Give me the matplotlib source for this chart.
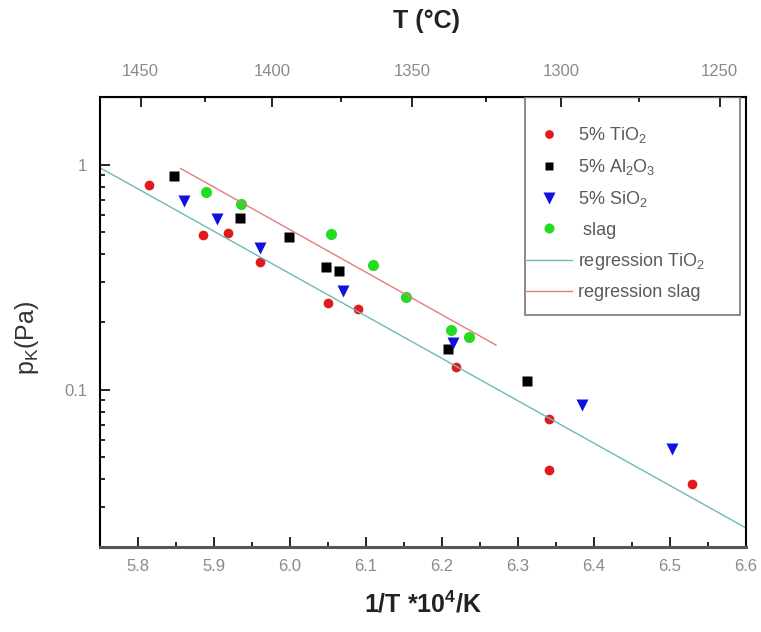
import matplotlib

matplotlib.use("Agg")
import matplotlib.pyplot as plt
from matplotlib.patches import Rectangle
from matplotlib.ticker import FixedLocator, LogLocator, MultipleLocator, NullFormatter

plt.rcParams["font.family"] = ["Liberation Sans", "DejaVu Sans"]
plt.rcParams["mathtext.fontset"] = "custom"
plt.rcParams["mathtext.rm"] = "Liberation Sans"
plt.rcParams["mathtext.bf"] = "Liberation Sans:bold"

# measured data, 1/T * 10^4 (1/K) vs vapour pressure (Pa)
tio2_x = [5.815, 5.885, 5.918, 5.961, 6.050, 6.090, 6.218, 6.341, 6.341, 6.529]
tio2_p = [0.812, 0.487, 0.495, 0.368, 0.244, 0.228, 0.1265, 0.0738, 0.044, 0.0383]

al2o3_x = [5.847, 5.934, 5.999, 6.047, 6.065, 6.208, 6.312]
al2o3_p = [0.891, 0.581, 0.475, 0.352, 0.337, 0.152, 0.1096]

sio2_x = [5.861, 5.904, 5.961, 6.070, 6.214, 6.384, 6.503]
sio2_p = [0.690, 0.575, 0.425, 0.275, 0.162, 0.0855, 0.0548]

slag_x = [5.889, 5.935, 6.054, 6.109, 6.153, 6.212, 6.236]
slag_p = [0.753, 0.666, 0.492, 0.358, 0.259, 0.1835, 0.172]

# regression line end points
reg_tio2_x = [5.75, 6.60]
reg_tio2_p = [0.970, 0.0243]
reg_slag_x = [5.856, 6.271]
reg_slag_p = [0.963, 0.158]

top_ticks = [1450, 1400, 1350, 1300, 1250]
top_minor = [1425, 1375, 1325, 1275]

TICK_GRAY = "#8a8a8a"


def to_celsius(x):
    return 1e4 / x - 273.15


def from_celsius(c):
    return 1e4 / (c + 273.15)


fig = plt.figure(figsize=(7.61, 6.32), dpi=100)
ax = fig.add_axes([0.1314, 0.1345, 0.8489, 0.712])

ax.plot(tio2_x, tio2_p, "o", color="#e31a1c", ms=7, mec="none", label="5% TiO$_2$")
ax.plot(al2o3_x, al2o3_p, "s", color="black", ms=7, mec="none", label="5% Al$_2$O$_3$")
ax.plot(sio2_x, sio2_p, "v", color="#1010e0", ms=9, mec="none", label="5% SiO$_2$")
ax.plot(slag_x, slag_p, "o", color="#22dd22", ms=8, mec="none", label=" slag")
ax.plot(reg_tio2_x, reg_tio2_p, "-", color="#6fb8bc", lw=1.0, label="regression TiO$_2$")
ax.plot(reg_slag_x, reg_slag_p, "-", color="#e87a7a", lw=1.0, label="regression slag")

ax.set_yscale("log")
ax.set_xlim(5.75, 6.6)
ax.set_ylim(0.02, 2)

ax.xaxis.set_major_locator(MultipleLocator(0.1))
ax.xaxis.set_minor_locator(MultipleLocator(0.05))
ax.yaxis.set_major_locator(LogLocator(base=10))
ax.yaxis.set_minor_locator(LogLocator(base=10, subs=range(2, 10)))
ax.yaxis.set_minor_formatter(NullFormatter())
ax.yaxis.set_major_formatter(plt.FuncFormatter(lambda v, _: f"{v:g}"))

ax.tick_params(which="both", direction="in", top=False, right=False,
               labelcolor=TICK_GRAY, labelsize=12, width=1.2)
ax.tick_params(axis="x", which="both", pad=9)
ax.tick_params(axis="y", which="both", pad=9)
ax.tick_params(which="major", length=7)
ax.tick_params(which="minor", length=3.5)
for side in ax.spines.values():
    side.set_linewidth(1.5)
ax.spines["bottom"].set_linewidth(2.2)
ax.spines["bottom"].set_color("#555555")

secax = ax.secondary_xaxis("top", functions=(to_celsius, from_celsius))
secax.xaxis.set_major_locator(FixedLocator(top_ticks))
secax.xaxis.set_minor_locator(FixedLocator(top_minor))
secax.tick_params(which="both", direction="in", labelcolor=TICK_GRAY,
                  labelsize=12, width=1.2, pad=13)
secax.tick_params(which="major", length=7)
secax.tick_params(which="minor", length=3.5)
secax.set_xlabel("T (°C)", fontsize=18, fontweight="bold", color="#222222")
secax.xaxis.set_label_coords(0.506, 1.169, transform=ax.transAxes)
secax.xaxis.label.set_va("center")

ax.set_xlabel("1/T *10$^\\mathbf{4}$/K", fontsize=18, fontweight="bold", color="#222222")
ax.xaxis.set_label_coords(0.5, -0.128)
ax.xaxis.label.set_va("center")
ax.set_ylabel("p$_\\mathregular{K}$(Pa)", fontsize=18, color="#333333")
ax.yaxis.set_label_coords(-0.113, 0.465)
ax.yaxis.label.set_va("center")

# legend: entries without frame, box drawn separately so handles sit at the edge
leg = ax.legend(loc="upper left", bbox_to_anchor=(0.658, 0.938), frameon=False,
                fontsize=13, labelspacing=0.68, handlelength=2.6,
                handletextpad=0.35, borderpad=0.0, borderaxespad=0.0,
                markerscale=0.9)
for t in leg.get_texts():
    t.set_color("#5a5a5a")
ax.add_patch(Rectangle((0.658, 0.516), 0.333, 0.484, transform=ax.transAxes,
                       fill=False, edgecolor="#777777", lw=1.2, zorder=5))

fig.savefig("out.png", dpi=100)
